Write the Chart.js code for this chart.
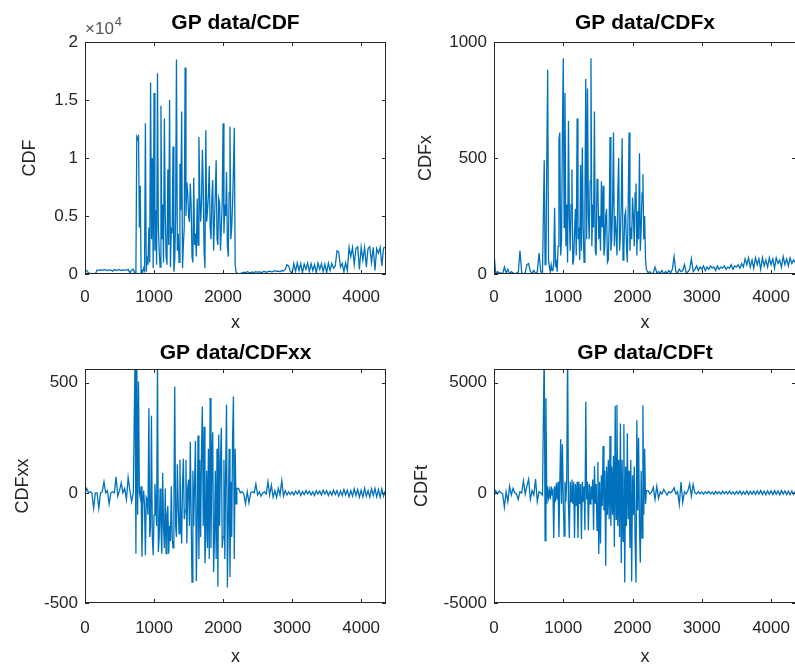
<!DOCTYPE html>
<html>
<head>
<meta charset="utf-8">
<title>GP data</title>
<script src="https://cdn.jsdelivr.net/npm/chart.js@4.4.1/dist/chart.umd.min.js"></script>
<style>
    html, body { margin: 0; padding: 0; background: #fff; overflow: hidden; }
    body { position: relative; width: 795px; height: 664px; }
    canvas { position: absolute; }
</style>
</head>
<body>
<canvas id="cdfChart" width="400" height="338" style="left:0;top:0"></canvas>
<canvas id="cdfxChart" width="400" height="338" style="left:400px;top:0"></canvas>
<canvas id="cdfxxChart" width="400" height="330" style="left:0;top:338px"></canvas>
<canvas id="cdftChart" width="400" height="330" style="left:400px;top:338px"></canvas>
<script>
// Each series is sampled in three stretches: quiet lead-in, the burst, quiet tail.
// The burst is sampled twice as often as the quiet parts.
const QUIET_STEP = 25;
const BURST_START = 725;
const BURST_STEP = 12.5;
const TAIL_START = 2225;
const X_MAX = 4360;
const xTicks = [0, 1000, 2000, 3000, 4000];

// --- CDF ---
const cdfLead = [
    350, 300, 100, 50, 30, 40, 30, 350, 300, 380,
    320, 380, 350, 300, 360, 340, 250, 380, 300, 350,
    380, 300, 360, 340, 330, 380, 100, 350, 400
];
const cdfBurst = [
    50, 200, 11800, 11600, 12000, 4000, 7600, 100, 300, 200,
    500, 300, 13000, 200, 1500, 800, 4000, 1000, 16500, 3000,
    10000, 500, 15600, 2000, 5500, 800, 17300, 4000, 2000, 600,
    14500, 3000, 6000, 1000, 13400, 5000, 1500, 800, 9000, 2500,
    15000, 600, 4000, 3500, 11000, 200, 1200, 5000, 18500, 2000,
    3500, 1000, 9500, 5500, 14000, 500, 2500, 4000, 17800, 5000,
    7900, 7000, 5000, 4500, 7800, 6000, 1500, 1000, 8300, 2500,
    3500, 1500, 6500, 2500, 11800, 7000, 4500, 6000, 10700, 7500,
    2000, 500, 12400, 4500, 5500, 6800, 9300, 4000, 3000, 6500,
    8100, 2000, 4500, 7000, 9800, 3000, 2500, 6500, 6100, 2000,
    4000, 6300, 13000, 3500, 6000, 5000, 8800, 2500, 1500, 7000,
    12700, 3000, 4000, 6000, 9000, 12600, 800, 200, 50
];
const cdfTail = [
    0,
    30, 100, 150, 100, 200, 150, 100, 180, 120, 200,
    150, 200, 100, 180, 220, 150, 200, 250, 180, 200,
    300, 220, 250, 200, 300, 250, 400, 800, 700, 200,
    100, 900, 200, 950, 300, 900, 100, 850, 400, 950,
    200, 900, 300, 800, 100, 950, 400, 900, 200, 850,
    100, 950, 300, 900, 500, 700, 2000, 1900, 600, 900,
    200, 950, 300, 2300, 1500, 2300, 800, 2200, 2350, 400,
    2300, 1200, 2300, 600, 2200, 2350, 1000, 2300, 300, 2200,
    1800, 2300, 700, 2250, 2300
];

// --- CDFx ---
const cdfxLead = [
    90, 0, 10, 5, 5, 0, 30, 5, 20, 0,
    10, 5, 0, 5, 5, 100, 5, 0, 5, 40,
    45, 10, 5, 15, 0, 10, 90, 10, 5
];
const cdfxBurst = [
    490, 40, 50, 500, 880, 60, 30, 10, 40, 15,
    20, 50, 285, 30, 50, 10, 120, 580, 610, 80,
    150, 600, 930, 200, 780, 120, 300, 50, 660, 250,
    100, 300, 450, 40, 60, 180, 280, 80, 670, 150,
    200, 60, 470, 100, 545, 200, 50, 300, 840, 150,
    800, 250, 150, 400, 930, 120, 300, 200, 700, 100,
    80, 410, 380, 150, 250, 100, 400, 200, 380, 80,
    120, 250, 280, 50, 60, 200, 590, 100, 150, 300,
    610, 120, 250, 180, 80, 350, 500, 100, 170, 300,
    585, 60, 100, 250, 270, 120, 50, 300, 610, 100,
    200, 150, 330, 250, 120, 350, 390, 80, 270, 150,
    520, 100, 200, 350, 430, 150, 250, 60, 20
];
const cdfxTail = [
    5,
    10, 0, 5, 30, 5, 10, 5, 15, 0, 10,
    5, 15, 5, 20, 75, 10, 5, 20, 10, 15,
    40, 5, 10, 20, 65, 10, 20, 35, 15, 30,
    20, 35, 15, 30, 20, 35, 25, 30, 15, 35,
    20, 30, 25, 35, 20, 30, 25, 40, 20, 35,
    30, 40, 25, 45, 30, 65, 40, 70, 30, 60,
    25, 70, 40, 65, 20, 70, 35, 60, 30, 70,
    40, 65, 25, 70, 45, 60, 30, 75, 40, 65,
    35, 70, 45, 60, 50
];

// --- CDFxx ---
const cdfxxLead = [
    0, 20, 0, 5, 0, -70, 0, 0, -70, 0,
    5, 50, 0, 10, -50, 0, 5, 0, 73, -15,
    10, 45, 0, 20, -30, 70, 10, -40, 0
];
const cdfxxBurst = [
    620, -276, 620, -100, 505, 0, -20, 30, -290, -40,
    10, -60, -283, -20, -30, -100, 384, -200, -150, 350,
    -200, -283, -100, 40, -50, -150, 620, -268, -200, 20,
    -150, -276, 90, -150, -250, 20, -276, -100, -60, -276,
    -150, -220, 30, -200, -250, -100, 483, -150, -200, 130,
    -50, -185, 150, -100, -230, 40, 155, -120, -80, 150,
    -230, 20, 60, -150, 232, -100, -405, 100, -150, 50,
    235, -400, -150, 260, -300, 150, -200, 200, 392, -150,
    300, -320, -200, 100, -250, 200, -300, 430, -250, 150,
    275, -360, -200, 100, -300, 200, -426, 265, -150, 150,
    295, -250, -200, 150, -300, 100, 400, -430, -150, 200,
    -382, 50, -200, 240, 437, -300, 200, -50, 20
];
const cdfxxTail = [
    20,
    0, 5, -5, -50, 5, -45, 0, 5, 0, 40,
    -10, 5, -15, 0, 5, -5, 50, -10, 35, -20,
    10, -20, 20, -10, 55, -15, 10, -10, 5, -8,
    5, -10, 8, -5, 10, -12, 6, -8, 10, -5,
    8, -10, 5, -12, 10, -6, 8, -10, 12, -5,
    10, -12, 6, -10, 12, -8, 10, -15, 8, -12,
    15, -10, 12, -18, 10, -15, 18, -12, 15, -20,
    12, -18, 20, -15, 10, -20, 18, -12, 20, -18,
    15, -20, 18, -15, 10
];

// --- CDFt ---
const cdftLead = [
    -150, 100, -50, 80, 0, -50, -650, 50, -400, 300,
    -100, 200, 0, -50, -300, 50, 0, 550, -50, 300,
    620, -300, 100, -100, 620, -400, 50, 0, -100
];
const cdftBurst = [
    6500, -2170, 4290, -500, 300, -200, 100, -300, 300, -100,
    200, -2050, 300, -400, 450, -300, 500, -2000, 400, 2430,
    -500, 2200, -300, -1960, 500, -400, 600, 6500, -500, -2050,
    500, -400, 600, -500, 500, -2050, 400, -600, 500, -2050,
    500, -500, 400, -2100, 500, -400, 300, -1700, 4130, -300,
    500, -1700, 400, -500, 300, -300, 600, -1700, 1210, -500,
    400, -1700, 1400, -2780, 500, -2300, 800, -600, 2130, -800,
    1000, -3310, 1200, -1000, 1500, -1200, 2580, -1500, 1200, -1000,
    1680, -2460, 3950, -1200, 4000, -1500, 1500, -2000, 3150, -3180,
    1500, -2200, 3110, -4070, 1200, -1500, 2700, -1200, 1000, -2500,
    1500, -4020, 800, -1000, 1200, -2200, -4070, 3290, -800, 2500,
    -1500, -3160, 1000, -2050, 3970, -1000, 2000, -500, 100
];
const cdftTail = [
    100,
    -50, 30, 250, -300, 300, -250, 50, -50, 150, 20,
    -100, 50, 0, 80, 230, -50, 50, -530, 490, -430,
    50, -50, 100, 410, -150, 380, 0, -50, 60, -40,
    40, -60, 50, -30, 70, -50, 40, -70, 60, -40,
    50, -60, 70, -40, 60, -50, 80, -60, 40, -70,
    60, -50, 80, -70, 50, -60, 90, -80, 70, -60,
    80, -70, 90, -60, 100, -80, 70, -90, 80, -70,
    90, -80, 100, -70, 80, -90, 100, -60, 90, -80,
    70, -90, 80, -70, 60
];

const cdfTicks = [0, 5000, 10000, 15000, 20000];
const cdfxTicks = [0, 500, 1000];
const cdfxxTicks = [-500, 0, 500];
const cdftTicks = [-5000, 0, 5000];

const FONT = "'Liberation Sans', Arial, Helvetica, sans-serif";
const AXIS_COLOR = '#262626';
const LINE_COLOR = '#0072BD';

function buildSeries(lead, burst, tail) {
    const pts = [];
    lead.forEach((v, i) => pts.push({ x: i * QUIET_STEP, y: v }));
    burst.forEach((v, i) => pts.push({ x: BURST_START + i * BURST_STEP, y: v }));
    tail.forEach((v, i) => pts.push({ x: TAIL_START + i * QUIET_STEP, y: v }));
    return pts;
}

// scales get no extra room for overhanging tick labels
function noLabelPadding(s) {
    s.paddingLeft = 0;
    s.paddingRight = 0;
    s.paddingTop = 0;
    s.paddingBottom = 0;
}

// Box around the axes with small inward ticks on all four sides
const boxFrame = {
    id: 'boxFrame',
    afterDatasetsDraw(chart, args, opts) {
        const { ctx, chartArea: a, scales: { x, y } } = chart;
        const len = 4;
        ctx.save();
        ctx.strokeStyle = AXIS_COLOR;
        ctx.lineWidth = 1;
        ctx.strokeRect(a.left + 0.5, a.top + 0.5, a.right - a.left - 1, a.bottom - a.top - 1);
        ctx.beginPath();
        x.ticks.forEach(t => {
            const px = Math.round(x.getPixelForValue(t.value)) + 0.5;
            ctx.moveTo(px, a.bottom); ctx.lineTo(px, a.bottom - len);
            ctx.moveTo(px, a.top); ctx.lineTo(px, a.top + len);
        });
        y.ticks.forEach(t => {
            const py = Math.round(y.getPixelForValue(t.value)) + 0.5;
            ctx.moveTo(a.left, py); ctx.lineTo(a.left + len, py);
            ctx.moveTo(a.right, py); ctx.lineTo(a.right - len, py);
        });
        ctx.stroke();

        // exponent label for scaled axes (e.g. x10^4)
        if (opts.exponent) {
            ctx.fillStyle = '#555';
            ctx.textBaseline = 'alphabetic';
            ctx.font = `17px ${FONT}`;
            ctx.fillText('\u00d710', a.left, a.top - 8);
            const w = ctx.measureText('\u00d710').width;
            ctx.font = `13px ${FONT}`;
            ctx.fillText(opts.exponent, a.left + w + 1, a.top - 16);
        }
        ctx.restore();
    }
};

function makePanel(canvasId, cfg) {
    const canvas = document.getElementById(canvasId);
    const W = canvas.width, H = canvas.height;
    const area = cfg.area;

    return new Chart(canvas, {
        type: 'line',
        data: {
            datasets: [{
                data: cfg.points,
                borderColor: LINE_COLOR,
                borderWidth: 1.3,
                pointRadius: 0,
                tension: 0,
                fill: false
            }]
        },
        plugins: [boxFrame],
        options: {
            responsive: false,
            animation: false,
            events: [],
            layout: { padding: { left: 0, top: 0, right: W - area.right, bottom: 0 } },
            plugins: {
                legend: { display: false },
                tooltip: { enabled: false },
                title: {
                    display: true,
                    text: cfg.title,
                    fullSize: false,
                    color: '#000',
                    font: { family: FONT, size: 21, weight: 'bold', lineHeight: 1.2 },
                    padding: { top: cfg.titleTop, bottom: area.top - cfg.titleTop - 25.2 }
                },
                boxFrame: { exponent: cfg.exponent || null }
            },
            scales: {
                x: {
                    type: 'linear',
                    min: 0,
                    max: X_MAX,
                    grid: { display: false, drawTicks: false },
                    border: { display: false },
                    afterBuildTicks: s => { s.ticks = xTicks.map(v => ({ value: v })); },
                    afterFit: s => { s.height = H - area.bottom; noLabelPadding(s); },
                    ticks: {
                        color: AXIS_COLOR,
                        padding: cfg.xTickPad,
                        maxRotation: 0,
                        font: { family: FONT, size: 17 },
                        callback: v => String(v)
                    },
                    title: {
                        display: true,
                        text: 'x',
                        color: AXIS_COLOR,
                        font: { family: FONT, size: 18, lineHeight: 1.2 },
                        padding: { top: 0, bottom: cfg.xTitlePad }
                    }
                },
                y: {
                    type: 'linear',
                    min: cfg.yMin,
                    max: cfg.yMax,
                    grid: { display: false, drawTicks: false },
                    border: { display: false },
                    afterBuildTicks: s => { s.ticks = cfg.yTicks.map(v => ({ value: v })); },
                    afterFit: s => { s.width = area.left; noLabelPadding(s); },
                    ticks: {
                        color: AXIS_COLOR,
                        padding: 7,
                        font: { family: FONT, size: 17 },
                        callback: cfg.yFormat || (v => String(v))
                    },
                    title: {
                        display: true,
                        text: cfg.yLabel,
                        color: AXIS_COLOR,
                        font: { family: FONT, size: 18, lineHeight: 1.2 },
                        padding: { top: cfg.yTitlePad, bottom: 0 }
                    }
                }
            }
        }
    });
}

makePanel('cdfChart', {
    title: 'GP data/CDF', yLabel: 'CDF',
    points: buildSeries(cdfLead, cdfBurst, cdfTail),
    yMin: 0, yMax: 20000, yTicks: cdfTicks,
    yFormat: v => String(v / 10000), exponent: '4',
    area: { left: 85, top: 42, right: 386, bottom: 274 },
    titleTop: 10.4, yTitlePad: 19.5, xTickPad: 13, xTitlePad: 4.5
});

makePanel('cdfxChart', {
    title: 'GP data/CDFx', yLabel: 'CDFx',
    points: buildSeries(cdfxLead, cdfxBurst, cdfxTail),
    yMin: 0, yMax: 1000, yTicks: cdfxTicks,
    area: { left: 94, top: 42, right: 396, bottom: 274 },
    titleTop: 10.4, yTitlePad: 15.5, xTickPad: 13, xTitlePad: 4.5
});

makePanel('cdfxxChart', {
    title: 'GP data/CDFxx', yLabel: 'CDFxx',
    points: buildSeries(cdfxxLead, cdfxxBurst, cdfxxTail),
    yMin: -500, yMax: 562, yTicks: cdfxxTicks,
    area: { left: 85, top: 31, right: 386, bottom: 265 },
    titleTop: 2.9, yTitlePad: 12, xTickPad: 15, xTitlePad: 0
});

makePanel('cdftChart', {
    title: 'GP data/CDFt', yLabel: 'CDFt',
    points: buildSeries(cdftLead, cdftBurst, cdftTail),
    yMin: -5000, yMax: 5620, yTicks: cdftTicks,
    area: { left: 94, top: 31, right: 396, bottom: 265 },
    titleTop: 2.9, yTitlePad: 11, xTickPad: 15, xTitlePad: 0
});
</script>
</body>
</html>
